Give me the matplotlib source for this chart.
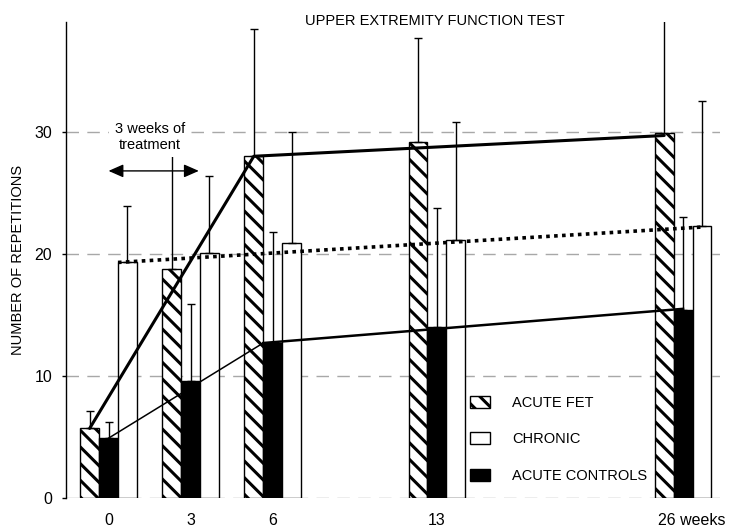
import matplotlib
matplotlib.use("Agg")
import matplotlib.pyplot as plt
from matplotlib.patches import Patch
from matplotlib.transforms import ScaledTranslation

plt.rcParams['font.family'] = ['Liberation Sans', 'DejaVu Sans']
plt.rcParams['hatch.linewidth'] = 2.2

# x categories (weeks) and where each group sits on the axis
week_labels = ['0', '3', '6', '13', '26 weeks']
week_pos = [0, 1, 2, 4, 7]

# means and upper error (SD)
fet_mean = [5.7, 18.8, 28.0, 29.2, 29.9]
fet_sd = [1.4, 11.7, 10.4, 8.5, 10.5]
ctrl_mean = [4.9, 9.6, 12.7, 14.0, 15.4]
ctrl_sd = [1.3, 6.3, 9.1, 9.8, 7.6]
chronic_mean = [19.3, 20.1, 20.9, 21.1, 22.3]
chronic_sd = [4.6, 6.3, 9.1, 9.7, 10.2]

# trend lines drawn over the bars (group index -> value)
fet_trend_idx = [0, 2, 4]
fet_trend = [5.7, 28.0, 29.7]
ctrl_early_idx = [0, 2]
ctrl_early = [4.9, 12.7]
ctrl_late_idx = [2, 4]
ctrl_late = [12.7, 15.5]
chronic_trend_idx = [0, 4]
chronic_trend = [19.3, 22.2]

# treatment period annotation
treatment_span = (0.0, 1.1)
treatment_level = 26.8

W = 0.23

fig = plt.figure(figsize=(7.29, 5.29), dpi=100)
ax = fig.add_axes([66 / 729, 31 / 529, 654 / 729, 476 / 529])

x_fet = [p - W for p in week_pos]
x_ctrl = list(week_pos)
x_chr = [p + W for p in week_pos]

zeros = [0] * len(week_pos)
ax.bar(x_fet, fet_mean, W, color='white', edgecolor='black', hatch='\\\\',
       linewidth=1, zorder=2)
ax.bar(x_ctrl, ctrl_mean, W, color='black', edgecolor='black', linewidth=1, zorder=2)
ax.bar(x_chr, chronic_mean, W, color='white', edgecolor='black', linewidth=1, zorder=2)

err_kw = dict(fmt='none', ecolor='black', elinewidth=1, capsize=3.2, capthick=1, zorder=3)
ax.errorbar(x_fet, fet_mean, yerr=[zeros, fet_sd], **err_kw)
ax.errorbar(x_ctrl, ctrl_mean, yerr=[zeros, ctrl_sd], **err_kw)
ax.errorbar(x_chr, chronic_mean, yerr=[zeros, chronic_sd], **err_kw)

# trend lines
ax.plot([week_pos[i] - W for i in fet_trend_idx], fet_trend,
        color='black', lw=2.2, zorder=4, solid_capstyle='round')
ax.plot([week_pos[ctrl_early_idx[0]], week_pos[ctrl_early_idx[1]] - W / 2], ctrl_early,
        color='black', lw=1.1, zorder=4)
ax.plot([week_pos[ctrl_late_idx[0]] - W / 2, week_pos[ctrl_late_idx[1]]], ctrl_late,
        color='black', lw=1.8, zorder=4)
ax.plot([week_pos[chronic_trend_idx[0]] + W / 2, week_pos[chronic_trend_idx[1]] + W],
        chronic_trend, color='black', lw=2.6, linestyle=(0, (1, 1.2)), zorder=4)

# 3 weeks of treatment
ax.annotate('', xy=(treatment_span[0], treatment_level),
            xytext=(treatment_span[1], treatment_level),
            arrowprops=dict(arrowstyle='<|-|>,head_length=0.5,head_width=0.22',
                            color='black', lw=1, mutation_scale=18,
                            shrinkA=0, shrinkB=0), zorder=6)
ax.text(0.506, 29.6, '3 weeks of\ntreatment', ha='center', va='center',
        fontsize=10.5, linespacing=1.15, zorder=6,
        bbox=dict(boxstyle='square,pad=0.4', facecolor='white', edgecolor='none'))

ax.set_xlim(-0.518, 7.45)
ax.set_ylim(0, 39)
ax.set_yticks([0, 10, 20, 30])
ax.set_xticks(week_pos, week_labels)
ax.yaxis.grid(True, color='#a8a8a8', linestyle=(0, (9, 6)), linewidth=1, zorder=0)
ax.set_axisbelow(True)
for s in ['top', 'right', 'bottom']:
    ax.spines[s].set_visible(False)
ax.spines['left'].set_linewidth(1)
ax.tick_params(axis='y', length=3, width=1, pad=7, labelsize=11.5)
ax.tick_params(axis='x', length=0, pad=10.5, labelsize=11.5)
lab = ax.get_xticklabels()[-1]
lab.set_transform(lab.get_transform() + ScaledTranslation(0.09, 0, fig.dpi_scale_trans))

ax.set_ylabel('NUMBER OF REPETITIONS', fontsize=10.5)
ax.yaxis.set_label_coords(-0.062, 0.5)

fig.text(435 / 729, 1 - 21 / 529, 'UPPER EXTREMITY FUNCTION TEST',
         ha='center', va='center', fontsize=10.5)

handles = [Patch(facecolor='white', edgecolor='black', hatch='\\\\', linewidth=1),
           Patch(facecolor='white', edgecolor='black', linewidth=1),
           Patch(facecolor='black', edgecolor='black', linewidth=1)]
ax.legend(handles, ['ACUTE FET', 'CHRONIC', 'ACUTE CONTROLS'],
          loc='upper left', bbox_to_anchor=(0.6177, 0.214), frameon=False,
          fontsize=10.5, handlelength=1.4, handleheight=0.9, labelspacing=1.52,
          handletextpad=1.5, borderpad=0, borderaxespad=0)

fig.savefig('out.png', dpi=100)
